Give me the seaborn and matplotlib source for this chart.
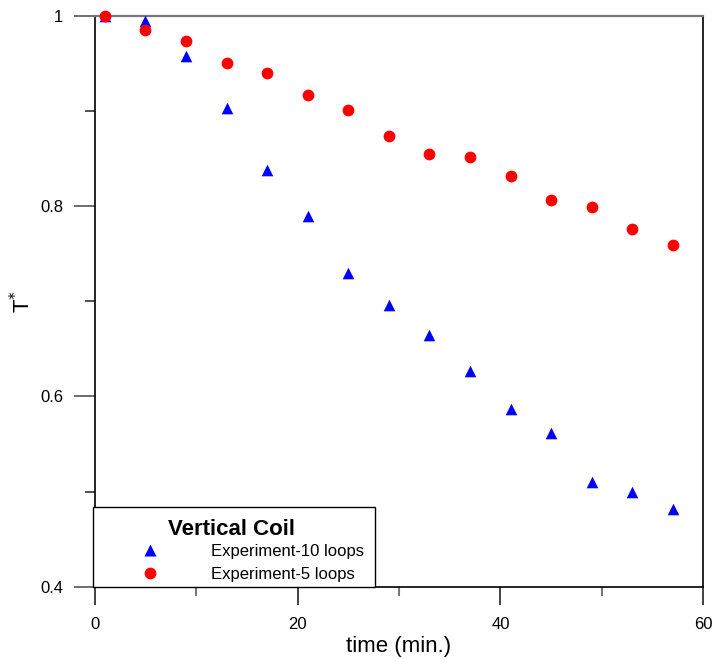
import numpy as np
import pandas as pd
import matplotlib
matplotlib.use("Agg")
import matplotlib.pyplot as plt
import seaborn as sns
from matplotlib.lines import Line2D
from matplotlib.patches import Rectangle
from matplotlib.ticker import MultipleLocator

time_min = [1, 5, 9, 13, 17, 21, 25, 29, 33, 37, 41, 45, 49, 53, 57]
exp_10_loops = [1.000, 0.994, 0.958, 0.903, 0.838, 0.789, 0.730, 0.696,
                0.664, 0.627, 0.587, 0.561, 0.510, 0.500, 0.482]
exp_5_loops = [1.000, 0.985, 0.973, 0.950, 0.940, 0.917, 0.901, 0.874,
               0.855, 0.852, 0.832, 0.806, 0.799, 0.776, 0.759]
series_names = ["Experiment-10 loops", "Experiment-5 loops"]
legend_title = "Vertical Coil"
x_ticks = [0, 20, 40, 60]
x_tick_labels = ["0", "20", "40", "60"]
y_ticks = [0.4, 0.6, 0.8, 1.0]
y_tick_labels = ["0.4", "0.6", "0.8", "1"]

df = pd.concat([
    pd.DataFrame({"time": time_min, "T": exp_10_loops, "series": series_names[0]}),
    pd.DataFrame({"time": time_min, "T": exp_5_loops, "series": series_names[1]}),
])

sns.set_theme(style="white")
plt.rcParams["font.family"] = ["Liberation Sans", "DejaVu Sans"]
plt.rcParams["text.color"] = "black"
plt.rcParams["axes.labelcolor"] = "black"
plt.rcParams["xtick.labelcolor"] = "black"
plt.rcParams["ytick.labelcolor"] = "black"

fig = plt.figure(figsize=(7.15, 6.59), dpi=100)
ax = fig.add_axes([0.1325, 0.1097, 0.8511, 0.8665])

palette = {series_names[0]: "#0000ff", series_names[1]: "#ff0000"}
markers = {series_names[0]: "^", series_names[1]: "o"}
sizes_map = {series_names[0]: 70, series_names[1]: 72}

for name in series_names:
    sub = df[df["series"] == name]
    sns.scatterplot(data=sub, x="time", y="T", color=palette[name],
                    marker=markers[name], s=sizes_map[name], linewidth=0,
                    ax=ax, legend=False, zorder=3, clip_on=False)

ax.set_xlim(0, 60)
ax.set_ylim(0.4, 1.0)
ax.set_xticks(x_ticks)
ax.set_xticklabels(x_tick_labels)
ax.set_yticks(y_ticks)
ax.set_yticklabels(y_tick_labels)
ax.xaxis.set_minor_locator(MultipleLocator(10))
ax.yaxis.set_minor_locator(MultipleLocator(0.1))

ax.tick_params(axis="x", which="major", direction="out", length=13, width=1.2,
               color="#222222", labelsize=12, pad=9, bottom=True, labelcolor="black")
ax.tick_params(axis="x", which="minor", direction="out", length=6.5, width=1.5,
               color="#777777", bottom=True)
ax.tick_params(axis="y", which="major", direction="out", length=15, width=1.2,
               color="#555555", labelsize=12, pad=7.5, left=True, labelcolor="black")
ax.tick_params(axis="y", which="minor", direction="out", length=7, width=1.2,
               color="#333333", left=True)

for side in ["left", "bottom", "right"]:
    ax.spines[side].set_color("black")
    ax.spines[side].set_linewidth(1.2)
ax.spines["top"].set_color("#777777")
ax.spines["top"].set_linewidth(1.6)

ax.set_xlabel("time (min.)", fontsize=16, labelpad=3, color="black")
ax.set_ylabel("T$^{*}$", fontsize=16, color="black")
ax.yaxis.set_label_coords(-0.098, 0.5)

# legend box frame
ax.add_patch(Rectangle((-0.003, 0.0), 0.463, 0.140, transform=ax.transAxes,
                       facecolor="white", edgecolor="black", linewidth=1.0,
                       zorder=4, clip_on=False))

handles = [Line2D([0], [0], marker=markers[n], color="none", markerfacecolor=palette[n],
                  markeredgecolor="none", markersize=8.5 if n == series_names[0] else 8.5,
                  linestyle="none") for n in series_names]
leg = ax.legend(handles, series_names, title=legend_title, loc="lower left",
                bbox_to_anchor=(-0.003, 0.0), frameon=False,
                fontsize=12, title_fontproperties={"weight": "bold", "size": 16},
                handlelength=6.3, handletextpad=0.5, borderpad=0.3,
                labelspacing=0.45, borderaxespad=0.0, labelcolor="black")
leg.get_title().set_color("black")
leg._legend_box.align = "center"
leg._legend_box.sep = 3.2
leg.set_zorder(5)

fig.savefig("out.png", dpi=100)
